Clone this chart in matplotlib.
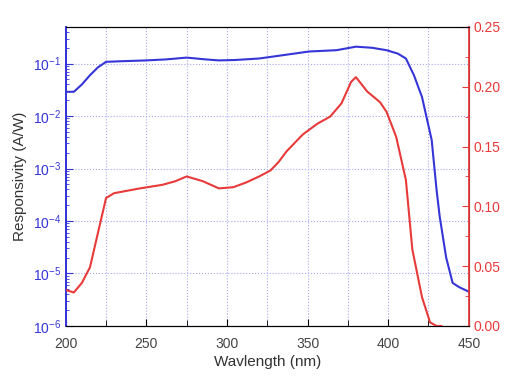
import numpy as np
import matplotlib.pyplot as plt
import matplotlib.ticker as mtick

plt.rcParams['font.family'] = ['Liberation Sans', 'DejaVu Sans']

# blue curve, log scale (A/W)
wl_blue = [200, 205, 210, 215, 220, 225, 235, 250, 262, 275, 287, 295, 305, 320,
           335, 351, 368, 380, 390, 399, 406, 411, 416, 421, 427, 430, 432, 436, 440, 444, 450]
resp_blue = [0.029, 0.029, 0.04, 0.06, 0.085, 0.108, 0.111, 0.115, 0.12, 0.13, 0.12, 0.115,
             0.117, 0.125, 0.145, 0.17, 0.18, 0.21, 0.2, 0.18, 0.155, 0.125, 0.06, 0.023,
             3.5e-3, 4e-4, 1.2e-4, 2e-5, 6.6e-6, 5.5e-6, 4.5e-6]

# red curve, linear scale (right axis)
wl_red = [200, 205, 210, 215, 220, 225, 230, 246, 260, 268, 275, 285, 295, 304, 312, 320,
          327, 332, 337, 342, 347, 352, 356, 364, 371, 377, 380, 387, 395, 399, 405, 411,
          415, 421, 426, 430, 433]
resp_red = [0.030, 0.028, 0.036, 0.049, 0.078, 0.107, 0.111, 0.115, 0.118, 0.121, 0.125, 0.121,
            0.115, 0.116, 0.12, 0.125, 0.130, 0.137, 0.146, 0.153, 0.160, 0.165, 0.169, 0.175,
            0.186, 0.204, 0.208, 0.196, 0.187, 0.179, 0.158, 0.122, 0.064, 0.024, 0.003, 0.0, 0.0]

blue = '#3535d8'
red = '#e83a3a'

fig = plt.figure(figsize=(5.22, 3.79), dpi=100)
ax = fig.add_axes([0.126, 0.140, 0.772, 0.789])
ax.plot(wl_blue, resp_blue, color=blue, lw=1.5, zorder=3)
ax.set_yscale('log')
ax.set_ylim(1e-6, 0.5)
ax.set_xlim(200, 450)
ax.set_xticks([200, 250, 300, 350, 400, 450])
ax.set_xticks([225, 275, 325, 375, 425], minor=True)
ax.grid(True, which='major', axis='y', color='#a8a8f0', ls=':', lw=0.8)
ax.grid(True, which='both', axis='x', color='#a8a8f0', ls=':', lw=0.8)
ax.yaxis.set_major_locator(mtick.LogLocator(base=10, numticks=10))
ax.yaxis.set_minor_locator(mtick.LogLocator(base=10, subs=np.arange(2, 10), numticks=20))
ax.yaxis.set_minor_formatter(mtick.NullFormatter())
ax.tick_params(axis='y', which='both', direction='in', colors=blue, labelsize=10)
ax.tick_params(axis='y', which='major', length=5)
ax.tick_params(axis='y', which='minor', length=2.5)
ax.tick_params(axis='x', which='both', direction='in', labelsize=10, labelcolor='#444444', pad=8)
ax.tick_params(axis='x', which='major', length=5)
ax.tick_params(axis='x', which='minor', length=4)
ax.spines['left'].set_color(blue)
ax.spines['left'].set_linewidth(1.3)
ax.set_xlabel('Wavlength (nm)', fontsize=11, color='#333333', labelpad=3)
ax.set_ylabel('Responsivity (A/W)', fontsize=11, color='#333333')

ax2 = ax.twinx()
ax2.plot(wl_red, resp_red, color=red, lw=1.5, zorder=3)
ax2.set_ylim(0, 0.25)
ax2.set_xlim(200, 450)
ax2.yaxis.set_major_locator(mtick.MultipleLocator(0.05))
ax2.yaxis.set_minor_locator(mtick.MultipleLocator(0.025))
ax2.yaxis.set_major_formatter(mtick.FormatStrFormatter('%.2f'))
ax2.tick_params(axis='y', which='both', direction='in', colors=red, labelsize=10)
ax2.tick_params(axis='y', which='major', length=5)
ax2.tick_params(axis='y', which='minor', length=3)
ax2.spines['right'].set_color(red)
ax2.spines['right'].set_linewidth(1.3)
ax2.spines['left'].set_color(blue)
ax2.spines['left'].set_linewidth(1.3)

fig.savefig('out.png', dpi=100)
